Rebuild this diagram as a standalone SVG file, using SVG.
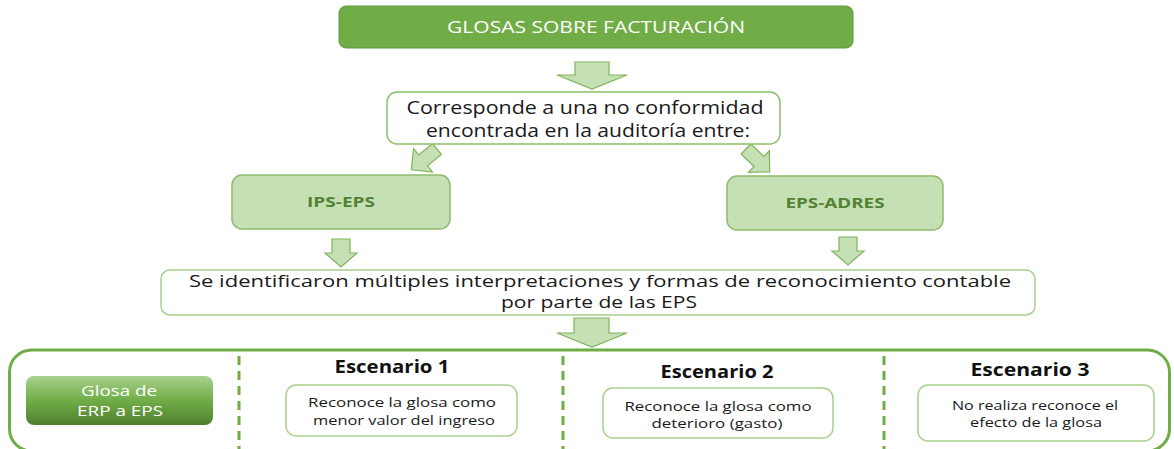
<svg xmlns="http://www.w3.org/2000/svg" width="1174" height="449" viewBox="0 0 1174 449">
<style>
text{font-family:"Open Sans","Liberation Sans",sans-serif;text-anchor:middle}
.arrow{fill:#c5e0b4;stroke:#7fb35a;stroke-width:1.2;stroke-linejoin:miter}
.wbox{fill:#ffffff;stroke:#8cc068;stroke-width:1.5}
.lbox{fill:#ffffff;stroke:#a9d18e;stroke-width:1.5}
.gbox{fill:#c5e0b4;stroke:#8dbb6c;stroke-width:1.5}
.big{fill:#ffffff;stroke:#70ad47;stroke-width:3}
.dash{stroke:#70ad47;stroke-width:3;stroke-dasharray:9 6;fill:none}
.t18{font-size:17.5px;fill:#1a1a1a}
.t17{font-size:16px;fill:#1a1a1a}
.t13{font-size:13.5px;fill:#1a1a1a}
.tb{font-size:14px;font-weight:700;fill:#548235}
.th{font-size:17px;font-weight:700;fill:#111111}
.tw{font-size:15px;fill:#ffffff}
</style>
<defs>
<linearGradient id="gGreen" x1="0" y1="0" x2="0" y2="1">
<stop offset="0" stop-color="#a9d18e"/>
<stop offset="0.5" stop-color="#70ad47"/>
<stop offset="1" stop-color="#4f7f2f"/>
</linearGradient>
</defs>

<g id="connectors">
<path class="arrow" d="M575,62 H609 V75 H627 L592,89 L557,75 H575 Z"/>
<path class="arrow" transform="translate(437,149) rotate(51)" d="M-7,0 H7 V18 H15 L0,33 L-15,18 H-7 Z"/>
<path class="arrow" transform="translate(746,149) rotate(-46)" d="M-7,0 H7 V18 H15 L0,33 L-15,18 H-7 Z"/>
<path class="arrow" d="M332,239 H350 V253 H357 L341,267 L325,253 H332 Z"/>
<path class="arrow" d="M839,237 H857 V251 H864 L848,265 L832,251 H839 Z"/>
<path class="arrow" d="M574,318 H609 V333 H627 L592,347 L557,333 H574 Z"/>
</g>

<g id="n-glosas">
<rect x="339" y="6" width="514" height="42" rx="7" fill="#70ad47" stroke="#5f9a3c" stroke-width="1"/>
<text x="596" y="33" font-size="16" fill="#ffffff" textLength="298" lengthAdjust="spacingAndGlyphs">GLOSAS SOBRE FACTURACIÓN</text>
</g>

<g id="n-corresponde">
<rect class="wbox" x="387" y="92" width="393" height="52" rx="10"/>
<text class="t18" x="585" y="114" textLength="357" lengthAdjust="spacingAndGlyphs">Corresponde a una no conformidad</text>
<text class="t18" x="588" y="137" textLength="324" lengthAdjust="spacingAndGlyphs">encontrada en la auditoría entre:</text>
</g>

<g id="n-ips-eps">
<rect class="gbox" x="232" y="175" width="218" height="54" rx="10"/>
<text class="tb" x="341" y="207" textLength="68" lengthAdjust="spacingAndGlyphs">IPS-EPS</text>
</g>

<g id="n-eps-adres">
<rect class="gbox" x="727" y="176" width="216" height="54" rx="10"/>
<text class="tb" x="835" y="208" textLength="99" lengthAdjust="spacingAndGlyphs">EPS-ADRES</text>
</g>

<g id="n-identificaron">
<rect class="lbox" x="161" y="270" width="874" height="45" rx="9"/>
<text class="t17" x="600" y="287" textLength="822" lengthAdjust="spacingAndGlyphs">Se identificaron múltiples interpretaciones y formas de reconocimiento contable</text>
<text class="t17" x="599" y="308" textLength="196" lengthAdjust="spacingAndGlyphs">por parte de las EPS</text>
</g>

<g id="n-escenarios">
<rect class="big" x="9.5" y="350" width="1160" height="101" rx="22"/>
<line class="dash" x1="239" y1="356" x2="239" y2="449"/>
<line class="dash" x1="563" y1="356" x2="563" y2="449"/>
<line class="dash" x1="884" y1="356" x2="884" y2="449"/>
</g>

<g id="n-glosa-erp">
<rect x="26" y="376" width="187" height="49" rx="8" fill="url(#gGreen)"/>
<text class="tw" x="119" y="396" textLength="76" lengthAdjust="spacingAndGlyphs">Glosa de</text>
<text class="tw" x="120" y="416" textLength="86" lengthAdjust="spacingAndGlyphs">ERP a EPS</text>
</g>

<g id="n-escenario1">
<text class="th" x="392" y="373" textLength="115" lengthAdjust="spacingAndGlyphs">Escenario 1</text>
<rect class="lbox" x="286" y="385" width="231" height="51" rx="10"/>
<text class="t13" x="402" y="407" textLength="188" lengthAdjust="spacingAndGlyphs">Reconoce la glosa como</text>
<text class="t13" x="404" y="425" textLength="182" lengthAdjust="spacingAndGlyphs">menor valor del ingreso</text>
</g>

<g id="n-escenario2">
<text class="th" x="717" y="378" textLength="113" lengthAdjust="spacingAndGlyphs">Escenario 2</text>
<rect class="lbox" x="603" y="388" width="230" height="50" rx="10"/>
<text class="t13" x="718" y="411" textLength="187" lengthAdjust="spacingAndGlyphs">Reconoce la glosa como</text>
<text class="t13" x="717" y="428" textLength="131" lengthAdjust="spacingAndGlyphs">deterioro (gasto)</text>
</g>

<g id="n-escenario3">
<text class="th" x="1030" y="376" textLength="119" lengthAdjust="spacingAndGlyphs">Escenario 3</text>
<rect class="lbox" x="918" y="385" width="236" height="56" rx="10"/>
<text class="t13" x="1035" y="410" textLength="166" lengthAdjust="spacingAndGlyphs">No realiza reconoce el</text>
<text class="t13" x="1036" y="427" textLength="132" lengthAdjust="spacingAndGlyphs">efecto de la glosa</text>
</g>
</svg>
